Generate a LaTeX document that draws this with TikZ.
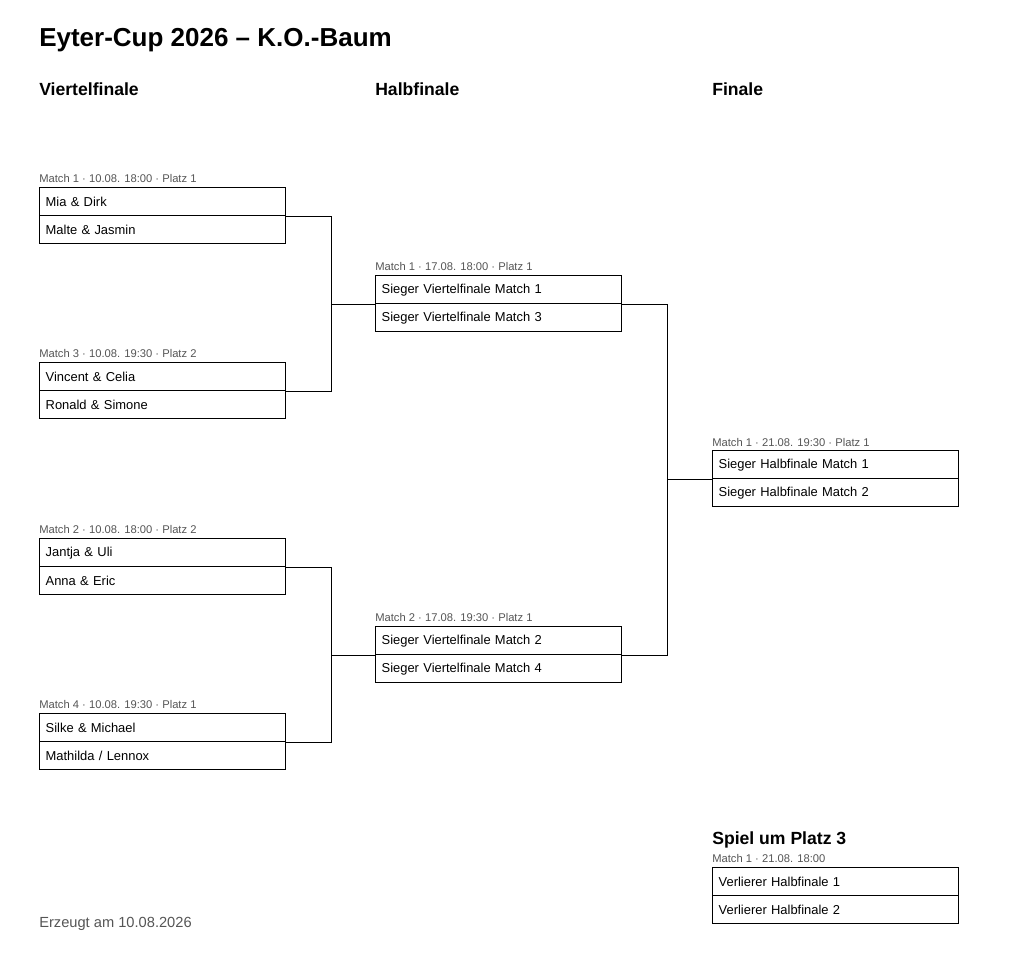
\documentclass[tikz,border=0pt]{standalone}
\usepackage{fontspec}
\setmainfont{Liberation Sans}
\definecolor{infogray}{HTML}{555555}

\begin{document}
\begin{tikzpicture}[x=0.75pt, y=-0.75pt,
    row/.style={draw, line width=1pt, anchor=north west, minimum width=184.5pt, minimum height=21pt,
      text width=175.5pt, inner xsep=4.5pt, inner ysep=0pt, align=left, font=\fontsize{9.7}{11}\selectfont},
    info/.style={anchor=base west, inner sep=0pt, text=infogray, font=\fontsize{8.4}{10}\selectfont},
    head/.style={anchor=base west, inner sep=0pt, font=\bfseries\fontsize{13.2}{15}\selectfont},
    link/.style={line width=1pt}]
    \useasboundingbox (0,0) rectangle (1024,953);

    % タイトルと見出し
    \node[anchor=base west, inner sep=0pt, font=\bfseries\fontsize{19.5}{22}\selectfont] (title) at (39,46) {Eyter-Cup 2026 – K.O.-Baum};
    \node[head] (hqf) at (39,95) {Viertelfinale};
    \node[head] (hhf) at (375,95) {Halbfinale};
    \node[head] (hf) at (712,95) {Finale};

    % Viertelfinale
    \node[info] (qf1i) at (39,182) {Match 1 · 10.08. 18:00 · Platz 1};
    \node[row] (qf1a) at (39,187) {Mia \& Dirk};
    \node[row] (qf1b) at (39,215) {Malte \& Jasmin};

    \node[info] (qf3i) at (39,357) {Match 3 · 10.08. 19:30 · Platz 2};
    \node[row] (qf3a) at (39,362) {Vincent \& Celia};
    \node[row] (qf3b) at (39,390) {Ronald \& Simone};

    \node[info] (qf2i) at (39,533) {Match 2 · 10.08. 18:00 · Platz 2};
    \node[row] (qf2a) at (39,538) {Jantja \& Uli};
    \node[row] (qf2b) at (39,566) {Anna \& Eric};

    \node[info] (qf4i) at (39,708) {Match 4 · 10.08. 19:30 · Platz 1};
    \node[row] (qf4a) at (39,713) {Silke \& Michael};
    \node[row] (qf4b) at (39,741) {Mathilda / Lennox};

    % Halbfinale
    \node[info] (hf1i) at (375,270) {Match 1 · 17.08. 18:00 · Platz 1};
    \node[row] (hf1a) at (375,275) {Sieger Viertelfinale Match 1};
    \node[row] (hf1b) at (375,303) {Sieger Viertelfinale Match 3};

    \node[info] (hf2i) at (375,621) {Match 2 · 17.08. 19:30 · Platz 1};
    \node[row] (hf2a) at (375,626) {Sieger Viertelfinale Match 2};
    \node[row] (hf2b) at (375,654) {Sieger Viertelfinale Match 4};

    % Finale
    \node[info] (fi) at (712,446) {Match 1 · 21.08. 19:30 · Platz 1};
    \node[row] (fa) at (712,450) {Sieger Halbfinale Match 1};
    \node[row] (fb) at (712,478) {Sieger Halbfinale Match 2};

    % Spiel um Platz 3
    \node[head] (hp3) at (712,844) {Spiel um Platz 3};
    \node[info] (p3i) at (712,862) {Match 1 · 21.08. 18:00};
    \node[row] (p3a) at (712,867) {Verlierer Halbfinale 1};
    \node[row] (p3b) at (712,895) {Verlierer Halbfinale 2};

    \node[anchor=base west, inner sep=0pt, text=infogray, font=\fontsize{11}{13}\selectfont] (stamp) at (39,927) {Erzeugt am 10.08.2026};

    % 線を引く
    \draw[link] (qf1a.south east) -- ++(45,0) coordinate (j1) |- (qf3a.south east);
    \draw[link] (j1 |- hf1a.south west) -- (hf1a.south west);
    \draw[link] (qf2a.south east) -- ++(45,0) coordinate (j2) |- (qf4a.south east);
    \draw[link] (j2 |- hf2a.south west) -- (hf2a.south west);
    \draw[link] (hf1a.south east) -- ++(45,0) coordinate (j3) |- (hf2a.south east);
    \draw[link] (j3 |- fa.south west) -- (fa.south west);

\end{tikzpicture}
\end{document}
